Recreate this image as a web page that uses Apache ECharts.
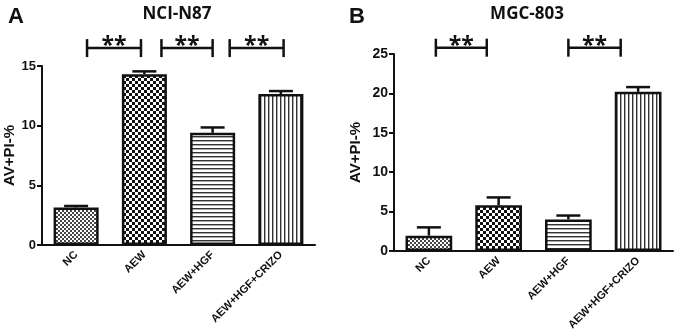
<!DOCTYPE html>
<html>
<head>
<meta charset="utf-8">
<script src="https://cdn.jsdelivr.net/npm/echarts@6/dist/echarts.min.js"></script>
<style>
html, body { margin: 0; padding: 0; background: #fff; }
#chart { width: 677px; height: 334px; }
</style>
</head>
<body>
<div id="chart"></div>
<script>
const groups = ['NC', 'AEW', 'AEW+HGF', 'AEW+HGF+CRIZO']
const n87Mean = [3.15, 14.3, 9.4, 12.65]
const n87Err = [0.12, 0.25, 0.45, 0.25]
const mgcMean = [1.95, 5.8, 4.0, 20.2]
const mgcErr = [1.05, 1.0, 0.5, 0.6]
// significance brackets, [from, to] in category units
const n87Brackets = [[0.16, 0.95], [1.25, 2.0], [2.25, 3.04]]
const mgcBrackets = [[0.1, 0.83], [2.0, 2.75]]
const n87BracketY = 16.5
const mgcBracketY = 25.8

const ARIAL = 'Liberation Sans, Arial, sans-serif'
const OPEN = 'Open Sans, sans-serif'

function makePattern(size, draw) {
  const c = document.createElement('canvas')
  c.width = size[0]
  c.height = size[1]
  const ctx = c.getContext('2d')
  ctx.fillStyle = '#fff'
  ctx.fillRect(0, 0, c.width, c.height)
  draw(ctx)
  return { image: c, repeat: 'repeat' }
}

const patterns = [
  makePattern([4, 4], (ctx) => { ctx.fillStyle = '#444'; ctx.fillRect(0, 0, 2, 2); ctx.fillRect(2, 2, 2, 2) }),
  makePattern([6, 6], (ctx) => { ctx.fillStyle = '#111'; ctx.fillRect(0, 0, 3, 3); ctx.fillRect(3, 3, 3, 3) }),
  makePattern([4, 4], (ctx) => { ctx.fillStyle = '#333'; ctx.fillRect(0, 0, 4, 1); ctx.fillStyle = '#aaa'; ctx.fillRect(0, 1, 4, 1) }),
  makePattern([4, 4], (ctx) => { ctx.fillStyle = '#333'; ctx.fillRect(0, 0, 1, 4); ctx.fillStyle = '#aaa'; ctx.fillRect(1, 0, 1, 4) })
]

function barData(means) {
  return means.map((v, i) => ({ value: v, itemStyle: { color: patterns[i] } }))
}

function errorSeries(means, errs, idx) {
  return {
    type: 'custom',
    xAxisIndex: idx,
    yAxisIndex: idx,
    z: 3,
    data: means.map((v, i) => [i, v, v + errs[i]]),
    renderItem: (params, api) => {
      const base = api.coord([api.value(0), api.value(1)])
      const top = api.coord([api.value(0), api.value(2)])
      const half = 12
      return {
        type: 'group',
        children: [
          { type: 'line', shape: { x1: base[0], y1: base[1], x2: top[0], y2: top[1] }, style: { stroke: '#111', lineWidth: 2.5 } },
          { type: 'line', shape: { x1: top[0] - half, y1: top[1], x2: top[0] + half, y2: top[1] }, style: { stroke: '#111', lineWidth: 2.5 } }
        ]
      }
    }
  }
}

function bracketSeries(brackets, yLevel, idx) {
  return {
    type: 'custom',
    xAxisIndex: idx,
    yAxisIndex: idx,
    clip: false,
    z: 5,
    data: brackets.map((b) => [b[0], b[1], yLevel]),
    renderItem: (params, api) => {
      const origin = api.coord([0, api.value(2)])
      const bw = api.size([1, 0])[0]
      const x1 = origin[0] + api.value(0) * bw
      const x2 = origin[0] + api.value(1) * bw
      const y = origin[1]
      const st = { stroke: '#111', lineWidth: 2.5 }
      return {
        type: 'group',
        children: [
          { type: 'line', shape: { x1: x1, y1: y, x2: x2, y2: y }, style: st },
          { type: 'line', shape: { x1: x1, y1: y - 9, x2: x1, y2: y + 9 }, style: st },
          { type: 'line', shape: { x1: x2, y1: y - 9, x2: x2, y2: y + 9 }, style: st },
          {
            type: 'text',
            x: (x1 + x2) / 2,
            y: y + 10,
            style: { text: '**', fill: '#111', font: 'bold 23px ' + OPEN, align: 'center', verticalAlign: 'bottom' }
          }
        ]
      }
    }
  }
}

function yAxis(idx, max, interval, labelSize, gap) {
  return {
    type: 'value',
    gridIndex: idx,
    min: 0,
    max: max,
    interval: interval,
    name: 'AV+PI-%',
    nameLocation: 'middle',
    nameGap: gap,
    nameTextStyle: { fontFamily: ARIAL, fontWeight: 'bold', fontSize: 15, color: '#111' },
    axisLine: { show: true, lineStyle: { color: '#111', width: 2 } },
    axisTick: { show: true, length: 5, lineStyle: { color: '#111', width: 2 } },
    axisLabel: { fontFamily: ARIAL, fontWeight: 'bold', fontSize: labelSize, color: '#111', margin: 6 },
    splitLine: { show: false }
  }
}

function xAxis(idx) {
  return {
    type: 'category',
    gridIndex: idx,
    data: groups,
    axisLine: { lineStyle: { color: '#111', width: 2 } },
    axisTick: { alignWithLabel: true, length: 5, lineStyle: { color: '#111', width: 2 } },
    axisLabel: { rotate: 45, interval: 0, fontFamily: ARIAL, fontWeight: 'bold', fontSize: 11, color: '#111', margin: 8 }
  }
}

const chart = echarts.init(document.getElementById('chart'))
chart.setOption({
  animation: false,
  title: [
    { text: 'A', left: 3, top: 1, textStyle: { fontFamily: ARIAL, fontWeight: 'bold', fontSize: 22, color: '#111' } },
    { text: 'NCI-N87', left: 172, top: 1, textAlign: 'center', textStyle: { fontFamily: OPEN, fontWeight: 'bold', fontSize: 17, color: '#111' } },
    { text: 'B', left: 344, top: 1, textStyle: { fontFamily: ARIAL, fontWeight: 'bold', fontSize: 22, color: '#111' } },
    { text: 'MGC-803', left: 522, top: 1, textAlign: 'center', textStyle: { fontFamily: OPEN, fontWeight: 'bold', fontSize: 17, color: '#111' } }
  ],
  grid: [
    { left: 42, right: 362, top: 66, bottom: 89 },
    { left: 394, right: 4, top: 54, bottom: 83 }
  ],
  xAxis: [xAxis(0), xAxis(1)],
  yAxis: [yAxis(0, 15, 5, 13, 22), yAxis(1, 25, 5, 14, 31)],
  series: [
    {
      type: 'bar',
      xAxisIndex: 0,
      yAxisIndex: 0,
      barWidth: '66%',
      itemStyle: { borderColor: '#111', borderWidth: 2.5 },
      data: barData(n87Mean)
    },
    errorSeries(n87Mean, n87Err, 0),
    bracketSeries(n87Brackets, n87BracketY, 0),
    {
      type: 'bar',
      xAxisIndex: 1,
      yAxisIndex: 1,
      barWidth: '67%',
      itemStyle: { borderColor: '#111', borderWidth: 2.5 },
      data: barData(mgcMean)
    },
    errorSeries(mgcMean, mgcErr, 1),
    bracketSeries(mgcBrackets, mgcBracketY, 1)
  ]
})
</script>
</body>
</html>
